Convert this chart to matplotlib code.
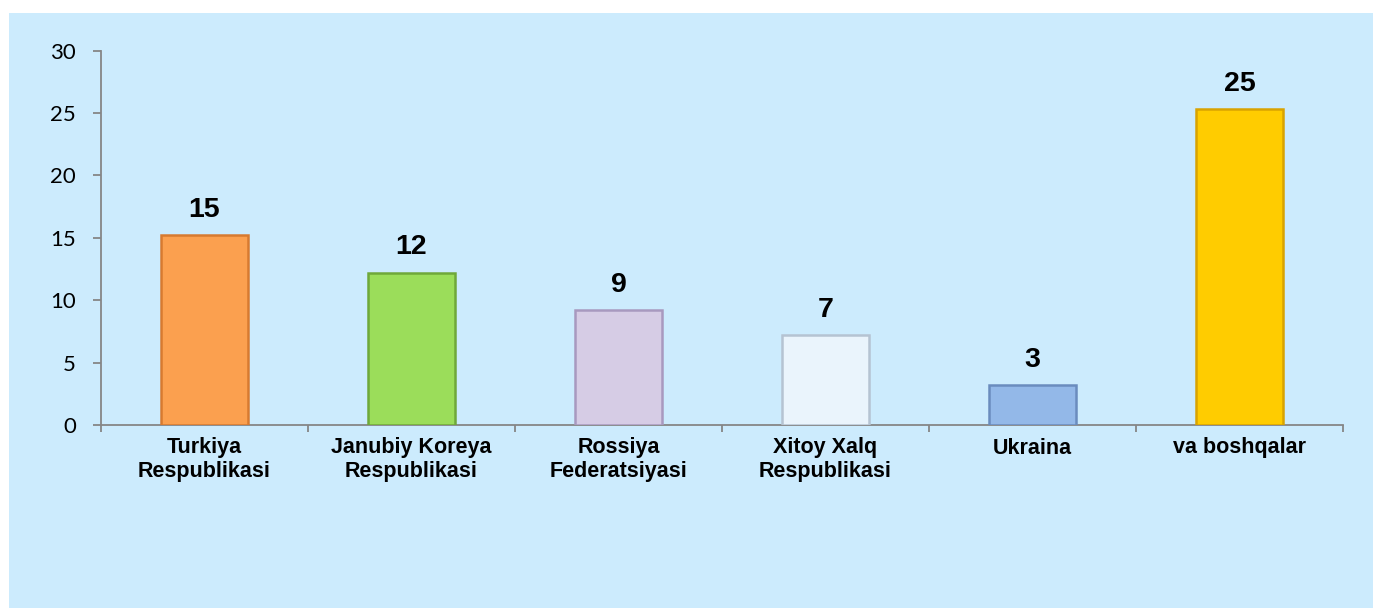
import matplotlib
matplotlib.use("Agg")
import matplotlib.pyplot as plt
from matplotlib.patches import Rectangle

# data
categories = ["Turkiya\nRespublikasi", "Janubiy Koreya\nRespublikasi", "Rossiya\nFederatsiyasi",
              "Xitoy Xalq\nRespublikasi", "Ukraina", "va boshqalar"]
values = [15.2, 12.2, 9.2, 7.2, 3.2, 25.3]
bar_colors = ["#FBA04F", "#9BDD5A", "#D6CCE5", "#EAF4FC", "#93B8E8", "#FFCC00"]
edge_colors = ["#D77A30", "#6FA83A", "#A899BF", "#B5C3D2", "#6A8CBE", "#D9A300"]
yticks = [0, 5, 10, 15, 20, 25, 30]

fig = plt.figure(figsize=(13.73, 6.08), dpi=100)
fig.patch.set_facecolor("white")

# light blue panel behind the chart
fig.patches.append(Rectangle((9 / 1373, 0), 1, 1 - 13 / 608, transform=fig.transFigure,
                             facecolor="#CCEBFD", edgecolor="none", zorder=-5))

ax = fig.add_axes([101 / 1373, 1 - 425 / 608, (1343 - 101) / 1373, (425 - 50.7) / 608])
ax.patch.set_visible(False)

x = list(range(len(categories)))
bars = ax.bar(x, values, width=0.42, color=bar_colors, edgecolor=edge_colors, linewidth=1.8, zorder=3)

for b, v in zip(bars, values):
    ax.annotate(f"{v:.0f}", (b.get_x() + b.get_width() / 2, b.get_height()),
                xytext=(0, 9), textcoords="offset points", ha="center", va="bottom",
                fontsize=20.5, fontweight="bold", family="Liberation Sans")

ax.set_xlim(-0.5, len(categories) - 0.5)
ax.set_ylim(0, 30)
ax.set_yticks(yticks)
ax.set_yticklabels([str(t) for t in yticks], family="Lato", fontsize=16)

# category ticks sit at the boundaries, labels in the middle
ax.set_xticks([i - 0.5 for i in range(len(categories) + 1)])
ax.set_xticklabels([])
ax.set_xticks(x, minor=True)
ax.set_xticklabels(categories, minor=True, fontsize=15.5, fontweight="bold",
                   family="Liberation Sans", linespacing=1.15)
ax.tick_params(axis="x", which="minor", length=0, pad=9)
ax.tick_params(axis="x", which="major", length=5, color="#868686", width=1.3)
ax.tick_params(axis="y", length=6, color="#868686", width=1.3, pad=12)

for s in ["top", "right"]:
    ax.spines[s].set_visible(False)
for s in ["left", "bottom"]:
    ax.spines[s].set_color("#868686")
    ax.spines[s].set_linewidth(1.3)

fig.savefig("out.png", dpi=100)
